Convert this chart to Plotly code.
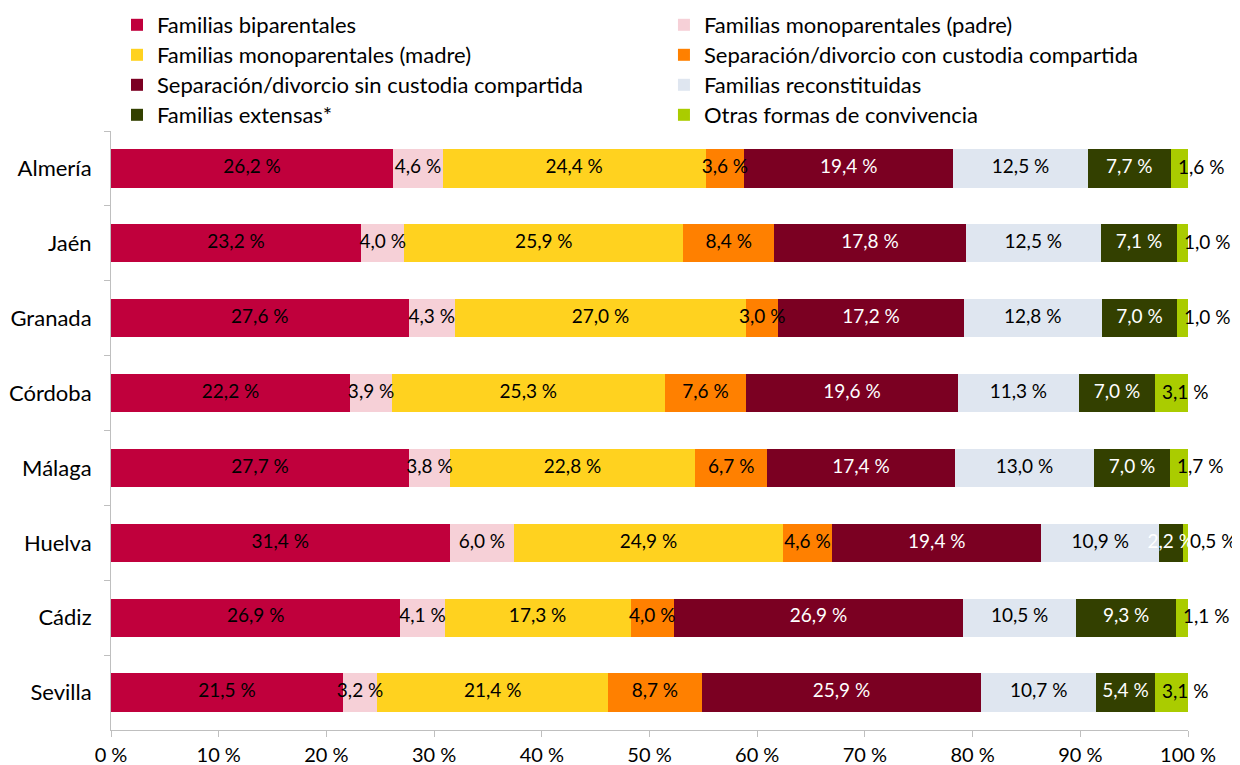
import plotly.graph_objects as go

provinces = ["Almería", "Jaén", "Granada", "Córdoba", "Málaga", "Huelva", "Cádiz", "Sevilla"]
series_names = [
    "Familias biparentales",
    "Familias monoparentales (padre)",
    "Familias monoparentales (madre)",
    "Separación/divorcio con custodia compartida",
    "Separación/divorcio sin custodia compartida",
    "Familias reconstituidas",
    "Familias extensas*",
    "Otras formas de convivencia",
]
biparentales = [26.2, 23.2, 27.6, 22.2, 27.7, 31.4, 26.9, 21.5]
mono_padre = [4.6, 4.0, 4.3, 3.9, 3.8, 6.0, 4.1, 3.2]
mono_madre = [24.4, 25.9, 27.0, 25.3, 22.8, 24.9, 17.3, 21.4]
con_custodia = [3.6, 8.4, 3.0, 7.6, 6.7, 4.6, 4.0, 8.7]
sin_custodia = [19.4, 17.8, 17.2, 19.6, 17.4, 19.4, 26.9, 25.9]
reconstituidas = [12.5, 12.5, 12.8, 11.3, 13.0, 10.9, 10.5, 10.7]
extensas = [7.7, 7.1, 7.0, 7.0, 7.0, 2.2, 9.3, 5.4]
otras = [1.6, 1.0, 1.0, 3.1, 1.7, 0.5, 1.1, 3.1]
x_ticks = [0, 10, 20, 30, 40, 50, 60, 70, 80, 90, 100]
x_tick_labels = [f"{t} %" for t in x_ticks]

series_values = [biparentales, mono_padre, mono_madre, con_custodia,
                 sin_custodia, reconstituidas, extensas, otras]
colors = ["#C0003C", "#F6D0D7", "#FFD21F", "#FF8000",
          "#7B0022", "#DFE6F0", "#334000", "#AACC00"]
text_colors = ["#000000", "#000000", "#000000", "#000000",
               "#FFFFFF", "#000000", "#FFFFFF", "#000000"]

FONT = "Lato"

fig = go.Figure()
legend_layout = {}
for i, (name, vals) in enumerate(zip(series_names, series_values)):
    key = "legend" if i == 0 else f"legend{i + 1}"
    fig.add_trace(go.Bar(
        y=provinces, x=vals, name=name, orientation="h",
        marker=dict(color=colors[i], line=dict(width=0)),
        legend=key, hoverinfo="skip",
    ))
    col, row = i % 2, i // 2
    legend_layout[key] = dict(
        x=0.0879 if col == 0 else 0.529,
        y=1 - (17 + row * 30) / 765,
        xref="container", yref="container",
        xanchor="left", yanchor="middle", orientation="v",
        font=dict(size=22), bgcolor="rgba(0,0,0,0)", itemclick=False,
    )

# data labels: centred in each (normalised) segment; the last series is
# anchored just after the start of its segment (as in the original)
totals = [sum(s[j] for s in series_values) for j in range(len(provinces))]
cum = [0.0] * len(provinces)
last = len(series_values) - 1
annotations = []
for i, vals in enumerate(series_values):
    pos = []
    for j, v in enumerate(vals):
        share = 100.0 * v / totals[j]
        pos.append(cum[j] if i == last else cum[j] + share / 2)
        cum[j] += share
    labels = [f"{v:.1f}".replace(".", ",") + " %" for v in vals]
    if i == last:
        for p, prov, lab in zip(pos, provinces, labels):
            annotations.append(dict(
                x=p, y=prov, xref="x", yref="y", text=lab, showarrow=False,
                xanchor="left", yanchor="middle", xshift=5, yshift=2,
                font=dict(color=text_colors[i], size=19, family=FONT),
            ))
    else:
        fig.add_trace(go.Scatter(
            x=pos, y=provinces, mode="text", text=labels,
            textposition="middle center", cliponaxis=False,
            textfont=dict(color=text_colors[i], size=19, family=FONT),
            showlegend=False, hoverinfo="skip",
        ))

fig.update_layout(
    barmode="stack", barnorm="percent", bargap=0.49,
    width=1240, height=765,
    margin=dict(l=103, r=60, t=123, b=43, autoexpand=False),
    plot_bgcolor="white", paper_bgcolor="white",
    font=dict(family=FONT, size=22, color="#000000"),
    showlegend=True,
    annotations=annotations,
    **legend_layout,
)
fig.update_xaxes(
    range=[0, 100], tickvals=x_ticks, ticktext=x_tick_labels,
    showgrid=False, zeroline=False, showline=True, linecolor="#BFBFBF",
    ticks="outside", ticklen=6, tickcolor="#BFBFBF", ticklabelstandoff=1,
    tickfont=dict(size=20), automargin=False,
)
fig.update_yaxes(
    categoryorder="array", categoryarray=provinces, autorange="reversed",
    showgrid=False, zeroline=False, showline=True, linecolor="#BFBFBF",
    ticks="outside", ticklen=6, tickcolor="#BFBFBF", tickson="boundaries",
    ticklabelstandoff=14, tickfont=dict(size=22), automargin=False,
)

fig.write_html("out.html")
